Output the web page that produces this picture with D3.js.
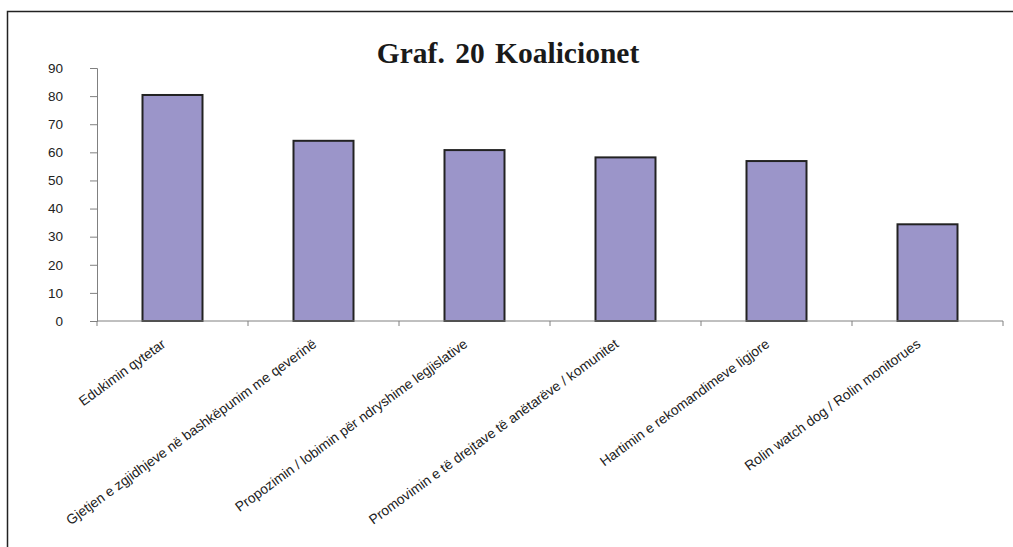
<!DOCTYPE html>
<html>
<head>
<meta charset="utf-8">
<script src="https://cdn.jsdelivr.net/npm/d3@7"></script>
<style>
  body { margin: 0; background: #fff; }
  svg { display: block; }
</style>
</head>
<body>
<svg></svg>
<script>
const categories = [
  "Edukimin qytetar",
  "Gjetjen e zgjidhjeve në bashkëpunim me qeverinë",
  "Propozimin / lobimin për ndryshime legjislative",
  "Promovimin e të drejtave të anëtarëve / komunitet",
  "Hartimin e rekomandimeve ligjore",
  "Rolin watch dog / Rolin monitorues"
];
const values = [80.4, 64.1, 60.8, 58.2, 56.9, 34.4];
const yTicks = [0, 10, 20, 30, 40, 50, 60, 70, 80, 90];
const title = "Graf. 20 Koalicionet";

const w = 1013, h = 547;
const svg = d3.select("svg").attr("width", w).attr("height", h);

// frame (right and bottom edges fall outside the picture)
svg.append("path")
  .attr("d", "M7.5,547 V11.5 H1013")
  .attr("fill", "none")
  .attr("stroke", "#222")
  .attr("stroke-width", 1.5);

// scales
const x = d3.scaleBand().domain(categories).range([97, 1003]).padding(0);
const y = d3.scaleLinear().domain([0, 90]).range([321, 68]);
const barW = 60;

// title
svg.append("text")
  .attr("x", 508)
  .attr("y", 63)
  .attr("text-anchor", "middle")
  .attr("font-family", "'Liberation Serif', 'Times New Roman', serif")
  .attr("font-weight", "bold")
  .attr("font-size", 29.5)
  .attr("word-spacing", 3)
  .attr("fill", "#1a1a1a")
  .text(title);

// y axis
const yAxis = svg.append("g")
  .attr("transform", "translate(97,0)")
  .call(d3.axisLeft(y).tickValues(yTicks).tickSize(7).tickPadding(27));
yAxis.select(".domain").attr("stroke", "#808080");
yAxis.selectAll(".tick line").attr("stroke", "#808080");
yAxis.selectAll(".tick text")
  .attr("font-family", "'Liberation Sans', Arial, sans-serif")
  .attr("font-size", 13.5)
  .attr("fill", "#222");

// bars
svg.append("g")
  .selectAll("rect")
  .data(values)
  .enter()
  .append("rect")
  .attr("x", (d, i) => x(categories[i]) + x.bandwidth() / 2 - barW / 2)
  .attr("y", d => y(d))
  .attr("width", barW)
  .attr("height", d => y(0) - y(d))
  .attr("fill", "#9b95c9")
  .attr("stroke", "#222")
  .attr("stroke-width", 2);

// x axis: ticks at band boundaries
const xAxis = svg.append("g");
xAxis.append("line")
  .attr("x1", 97).attr("x2", 1003)
  .attr("y1", y(0)).attr("y2", y(0))
  .attr("stroke", "#808080");
const bounds = categories.map(c => x(c)).concat([x.range()[1]]);
xAxis.selectAll("line.tk")
  .data(bounds)
  .enter()
  .append("line")
  .attr("class", "tk")
  .attr("x1", d => d).attr("x2", d => d)
  .attr("y1", y(0)).attr("y2", y(0) + 5)
  .attr("stroke", "#808080");

// rotated category labels
svg.append("g")
  .selectAll("text")
  .data(categories)
  .enter()
  .append("text")
  .attr("transform", d => `translate(${x(d) + x.bandwidth() / 2 - 6},${y(0) + 25}) rotate(-36)`)
  .attr("text-anchor", "end")
  .attr("font-family", "'Liberation Sans', Arial, sans-serif")
  .attr("font-size", 13.8)
  .attr("fill", "#222")
  .text(d => d);
</script>
</body>
</html>
